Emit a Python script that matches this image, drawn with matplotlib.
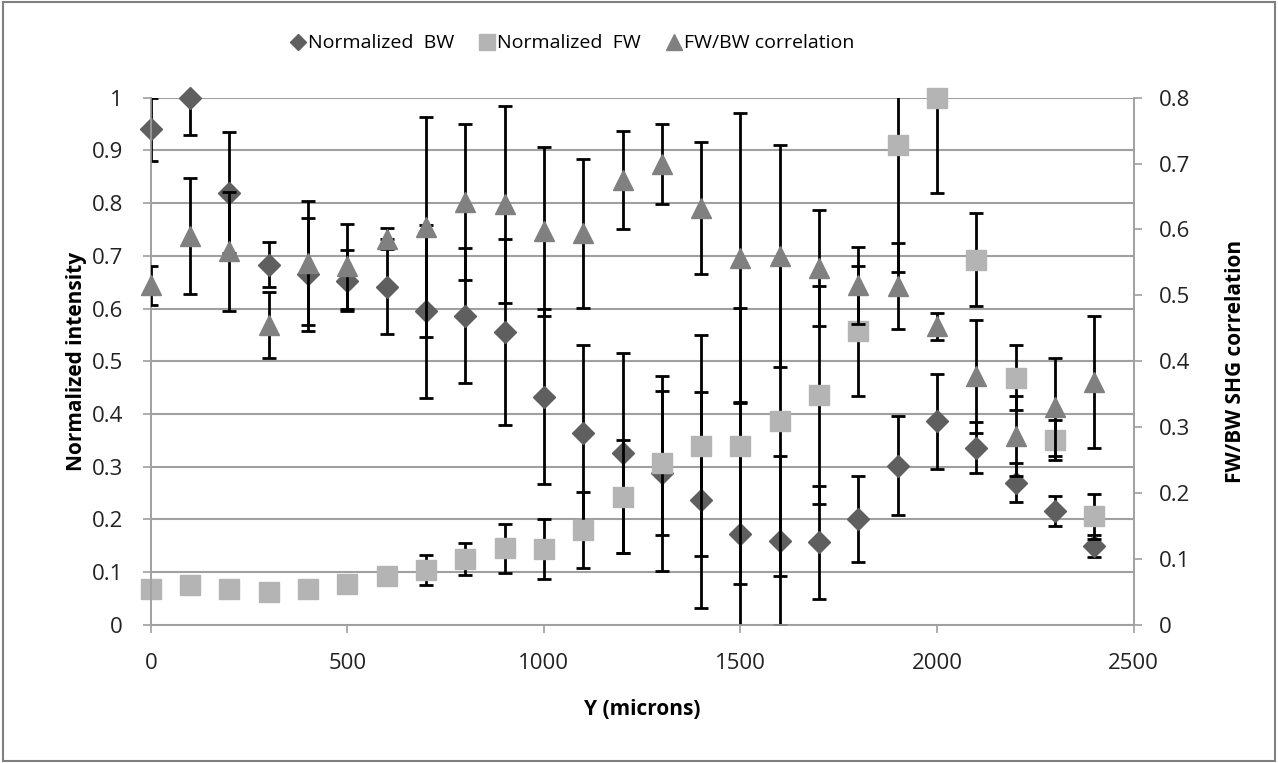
import numpy as np
import matplotlib.pyplot as plt
from matplotlib.patches import Rectangle
from matplotlib.lines import Line2D
from matplotlib.ticker import FuncFormatter

plt.rcParams['font.family'] = ['Open Sans', 'DejaVu Sans']

# ---- data ----
y_pos = [0, 100, 200, 300, 400, 500, 600, 700, 800, 900, 1000, 1100, 1200,
         1300, 1400, 1500, 1600, 1700, 1800, 1900, 2000, 2100, 2200, 2300, 2400]

bw = [0.94, 1.0, 0.82, 0.683, 0.665, 0.653, 0.641, 0.595, 0.586, 0.555, 0.433,
      0.364, 0.326, 0.288, 0.237, 0.173, 0.160, 0.157, 0.201, 0.302, 0.386,
      0.336, 0.270, 0.216, 0.149]
bw_err = [0.06, 0.07, 0.115, 0.043, 0.107, 0.058, 0.09, 0.164, 0.128, 0.176,
          0.166, 0.167, 0.19, 0.185, 0.205, 0.25, 0.16, 0.107, 0.081, 0.094,
          0.09, 0.048, 0.037, 0.028, 0.021]

fw = [0.068, 0.076, 0.068, 0.062, 0.068, 0.078, 0.092, 0.104, 0.125, 0.145,
      0.144, 0.180, 0.243, 0.307, 0.340, 0.340, 0.387, 0.436, 0.557, 0.910,
      1.0, 0.693, 0.469, 0.351, 0.206]
fw_err = [0, 0, 0, 0, 0, 0, 0, 0.029, 0.03, 0.047, 0.056, 0.072, 0.107,
          0.136, 0.209, 0.262, 0.295, 0.207, 0.123, 0.24, 0.18, 0.088, 0.062,
          0.038, 0.043]

corr = [0.515, 0.59, 0.567, 0.455, 0.549, 0.544, 0.586, 0.604, 0.642, 0.638,
        0.597, 0.594, 0.675, 0.699, 0.632, 0.557, 0.56, 0.542, 0.515, 0.514,
        0.453, 0.377, 0.287, 0.331, 0.368]
corr_err = [0.03, 0.088, 0.09, 0.05, 0.094, 0.064, 0.016, 0.167, 0.118, 0.15,
            0.128, 0.113, 0.074, 0.061, 0.1, 0.22, 0.168, 0.088, 0.058, 0.065,
            0.021, 0.086, 0.061, 0.074, 0.1]

# ---- figure ----
fig = plt.figure(figsize=(12.78, 7.63), dpi=100)
ax = fig.add_axes([0.118, 0.181, 0.769, 0.691])
ax2 = ax.twinx()

grid_c = '#a0a0a0'
c_bw, c_fw, c_corr = '#5f5f5f', '#b4b4b4', '#808080'
eb = dict(fmt='none', ecolor='black', elinewidth=2, capsize=5, capthick=2)

# series in Excel order: BW, FW, then correlation on the secondary axis
ax.errorbar(y_pos, bw, yerr=bw_err, zorder=3, **eb)
ax.plot(y_pos, bw, 'D', ms=11, color=c_bw, zorder=3.1, clip_on=False)
ax.errorbar(y_pos, fw, yerr=fw_err, zorder=4, **eb)
ax.plot(y_pos, fw, 's', ms=14, color=c_fw, zorder=4.1, clip_on=False)
ax2.errorbar(y_pos, corr, yerr=corr_err, zorder=3, **eb)
ax2.plot(y_pos, corr, '^', ms=15, color=c_corr, zorder=3.1, clip_on=False)

ax.set_xlim(0, 2500)
ax.set_ylim(0, 1)
ax2.set_ylim(0, 0.8)
ax.set_xticks(np.arange(0, 2501, 500))
ax.set_yticks(np.arange(0, 1.01, 0.1))
ax2.set_yticks(np.arange(0, 0.81, 0.1))
fmt = FuncFormatter(lambda v, p: f"{v:.1f}".rstrip('0').rstrip('.') if v else "0")
ax.yaxis.set_major_formatter(fmt)
ax2.yaxis.set_major_formatter(fmt)

ax.grid(axis='y', color=grid_c, linewidth=1.5)
ax.set_axisbelow(True)
for a in (ax, ax2):
    a.spines['top'].set_visible(False)
    for s in ('left', 'right', 'bottom'):
        a.spines[s].set_color(grid_c)
        a.spines[s].set_linewidth(1.2)
    a.tick_params(axis='both', colors=grid_c, labelcolor='#222222', labelsize=16,
                  length=6, width=1.2, direction='out')
ax.tick_params(axis='y', pad=14)
ax.tick_params(axis='x', pad=14)
ax2.tick_params(axis='y', pad=12)

ax.set_xlabel('Y (microns)', fontsize=15, fontweight='bold', labelpad=18)
ax.set_ylabel('Normalized intensity', fontsize=15, fontweight='bold', labelpad=3)
ax2.set_ylabel('FW/BW SHG correlation', fontsize=15, fontweight='bold', labelpad=25)

handles = [
    Line2D([], [], ls='none', marker='D', ms=8, color=c_bw, label='Normalized  BW'),
    Line2D([], [], ls='none', marker='s', ms=11, color=c_fw, label='Normalized  FW'),
    Line2D([], [], ls='none', marker='^', ms=11, color=c_corr, label='FW/BW correlation'),
]
fig.legend(handles=handles, loc='center', bbox_to_anchor=(0.447, 0.943),
           ncol=3, frameon=False, fontsize=14, handletextpad=0.0,
           columnspacing=1.2, handlelength=1.0)

fig.patches.append(Rectangle((0.002, 0.002), 0.996, 0.996, transform=fig.transFigure,
                             fill=False, edgecolor='#808080', linewidth=1.5))

fig.savefig('out.png', dpi=100)
